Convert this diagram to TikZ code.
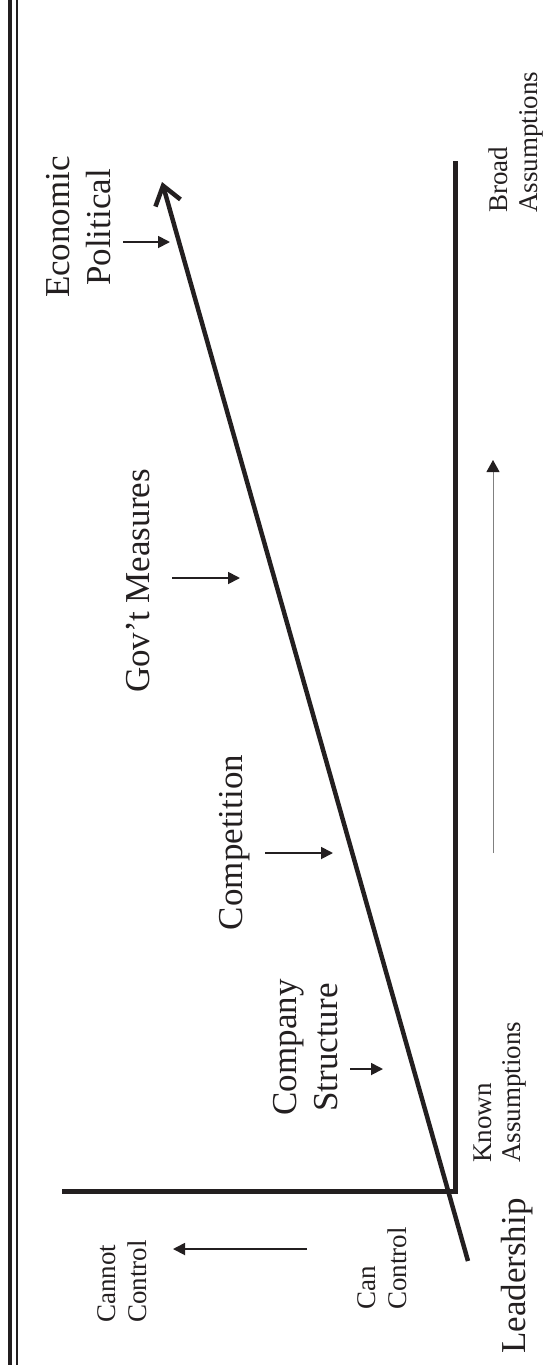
\documentclass[tikz,border=0pt]{standalone}
\usepackage{fontspec}
\setmainfont{Liberation Serif}
\usetikzlibrary{arrows.meta}
\definecolor{ink}{HTML}{231F20}
\tikzset{
  big/.style={rotate=90, inner sep=0pt, text=ink, font=\fontsize{35}{40}\selectfont},
  small/.style={rotate=90, inner sep=0pt, text=ink, font=\fontsize{27}{30}\selectfont},
  thick line/.style={draw=ink, line width=5pt},
  pointer/.style={draw=ink, line width=1.8pt, -{Triangle[length=12pt,width=12pt]}},
  faint/.style={draw=black!50, line width=1pt, -{Triangle[length=12pt,width=13pt,color=ink]}}
}
\begin{document}
\begin{tikzpicture}[x=1pt,y=-1pt]
\useasboundingbox (0,0) rectangle (544,1365);
% double rule at the left
\draw[ink, line width=4.5pt] (10,0) -- (10,1365);
\draw[ink, line width=2.2pt] (17,0) -- (17,1365);
% L-shaped boundary
\coordinate (Ltop) at (455,161);
\coordinate (Lcorner) at (455,1191);
\coordinate (Lleft) at (62,1191);
\draw[thick line, line join=miter] (Ltop) -- (Lcorner) -- (Lleft);
% main arrow
\coordinate (mainTail) at (468,1261);
\coordinate (mainTip) at (162,182);
\draw[draw=ink, line width=4.5pt, -{Straight Barb[length=18pt,width=26pt,line width=4.5pt]}] (mainTail) -- (mainTip);
% labels
\node[big, anchor=base] (econ) at (69,227) {Economic};
\node[big, anchor=base] (polit) at (110,227.5) {Political};
\node[big, anchor=base] (govt) at (149,581) {Gov’t Measures};
\node[big, anchor=base] (comp) at (242,842.5) {Competition};
\node[big, anchor=base] (company) at (296,1047.5) {Company};
\node[big, anchor=base] (struct) at (337,1047.5) {Structure};
\node[big, anchor=base west] (lead) at (525,1354) {Leadership};
\node[small, anchor=base west] (known) at (491,1163) {Known};
\node[small, anchor=base west] (knownass) at (520,1163) {Assumptions};
\node[small, anchor=base west] (broad) at (507,213) {Broad};
\node[small, anchor=base west] (broadass) at (537,213) {Assumptions};
\node[small, anchor=base west] (cannot) at (115,1323) {Cannot};
\node[small, anchor=base west] (cannotctl) at (146,1323) {Control};
\node[small, anchor=base west] (can) at (375,1310) {Can};
\node[small, anchor=base west] (canctl) at (406,1310) {Control};
% pointer arrows
\coordinate (e1) at (123,242); \coordinate (e2) at (170,242);
\coordinate (g1) at (172,578); \coordinate (g2) at (240,578);
\coordinate (c1) at (265,853); \coordinate (c2) at (333,853);
\coordinate (s1) at (350,1069); \coordinate (s2) at (383,1069);
\coordinate (k1) at (307,1249); \coordinate (k2) at (173,1249);
\draw[pointer] (e1) -- (e2);
\draw[pointer] (g1) -- (g2);
\draw[pointer] (c1) -- (c2);
\draw[pointer] (s1) -- (s2);
\draw[pointer] (k1) -- (k2);
% faint arrow from known to broad
\coordinate (f1) at (493,853); \coordinate (f2) at (493,460);
\draw[faint] (f1) -- (f2);
\end{tikzpicture}
\end{document}
